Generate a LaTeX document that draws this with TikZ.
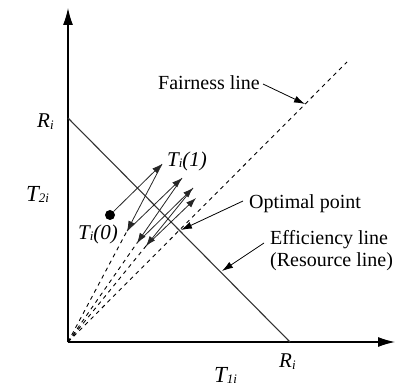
\documentclass[tikz,border=0pt]{standalone}
\usepackage{fontspec}
\setmainfont{Liberation Serif}
\newfontfamily\timesf{Liberation Serif}
\usetikzlibrary{arrows.meta}
\begin{document}
\begin{tikzpicture}[x=1pt,y=-1pt,
  axis/.style={line width=1.2pt,-{Latex[length=17pt,width=10pt]}},
  resline/.style={line width=1.1pt,black!80},
  dashline/.style={line width=0.9pt,dash pattern=on 4pt off 4pt},
  stepline/.style={line width=0.8pt,black!85,-{Latex[length=10pt,width=7pt]}},
  callout/.style={line width=0.8pt,-{Latex[length=11pt,width=7pt]}},
  lbl/.style={inner sep=0pt,font=\timesf\fontsize{20}{22}\selectfont},
  ilbl/.style={inner sep=0pt,font=\timesf\fontsize{21}{23}\selectfont\itshape}]
\useasboundingbox (0,0) rectangle (396,387);
% key points
\coordinate (O) at (68,342);
\coordinate (Ytip) at (68,8);
\coordinate (Xtip) at (395,342);
\coordinate (Ry) at (68,118);
\coordinate (Rx) at (290,342);
\coordinate (Fend) at (347,62);
\coordinate (U1) at (162,164);
\coordinate (L1) at (127,231);
\coordinate (U2) at (182,178);
\coordinate (L2) at (137,243);
\coordinate (U3) at (193,188);
\coordinate (L3) at (146,246);
\coordinate (U4) at (196,198);
\coordinate (Opt) at (181,230);
\coordinate (Fpt) at (305,104);
\coordinate (Ept) at (222,271);
% axes
\draw[axis] (O) -- (Ytip);
\draw[axis] (O) -- (Xtip);
% resource line
\draw[resline] (Ry) -- (Rx);
% fairness and ray lines
\draw[dashline] (O) -- (Fend);
\draw[dashline] (O) -- (L1);
\draw[dashline] (O) -- (L2);
\draw[dashline] (O) -- (L3);
% start point
\node[circle,fill=black,inner sep=0pt,minimum size=10pt] (dot) at (110,215) {};
% trajectory
\draw[stepline] (dot) -- (U1);
\draw[stepline] (U1) -- (L1);
\draw[stepline] (L1) -- (U2);
\draw[stepline] (U2) -- (L2);
\draw[stepline] (L2) -- (U3);
\draw[stepline] (U3) -- (L3);
\draw[stepline] (L3) -- (U4);
% labels
\node[ilbl,anchor=base west] (Rylab) at (37,128) {R\raisebox{-2pt}{\fontsize{13}{13}\selectfont i}};
\node[ilbl,anchor=base west] (Rxlab) at (279,367) {R\raisebox{-2pt}{\fontsize{13}{13}\selectfont i}};
\node[ilbl,anchor=base west,font=\timesf\fontsize{23}{25}\selectfont\itshape] (T2lab) at (26,202) {T\raisebox{-1pt}{\fontsize{13}{13}\selectfont 2i}};
\node[ilbl,anchor=base west,font=\timesf\fontsize{23}{25}\selectfont\itshape] (T1lab) at (214,382) {T\raisebox{-1pt}{\fontsize{13}{13}\selectfont 1i}};
\node[ilbl,anchor=base west] (T1) at (167,167) {T\raisebox{-1pt}{\fontsize{13}{13}\selectfont i}(1)};
\node[ilbl,anchor=base west] (T0) at (78,240) {T\raisebox{-1pt}{\fontsize{13}{13}\selectfont i}(0)};
\node[lbl,anchor=base west] (fair) at (158,90) {Fairness line};
\node[lbl,anchor=base west] (optl) at (249,209) {Optimal point};
\node[lbl,anchor=base west] (eff) at (270,245) {Efficiency line};
\node[lbl,anchor=base west] (res) at (270,266) {(Resource line)};
% callouts
\coordinate (Fstart) at (263,84);
\coordinate (Ostart) at (243,201);
\coordinate (Estart) at (264,243);
\draw[callout] (Fstart) -- (Fpt);
\draw[callout] (Ostart) -- (Opt);
\draw[callout] (Estart) -- (Ept);
\end{tikzpicture}
\end{document}
